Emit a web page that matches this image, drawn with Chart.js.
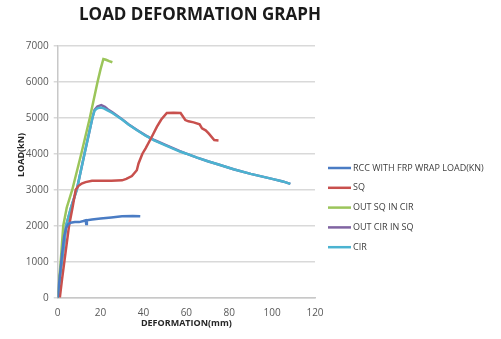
<!DOCTYPE html>
<html>
<head>
<meta charset="utf-8">
<script src="https://cdn.jsdelivr.net/npm/chart.js@4.4.0/dist/chart.umd.min.js"></script>
<style>
  html, body { margin: 0; padding: 0; background: #fff; }
  #wrap { width: 501px; height: 339px; position: relative; }
</style>
</head>
<body>
<div id="wrap"><canvas id="chart"></canvas></div>
<script>
// deformation (mm) / load (kN)
const rccDef  = [0, 1, 2, 3, 4, 5, 6, 8, 10, 12, 13, 13.3, 13.6, 16, 20, 25, 30, 35, 38.5];
const rccLoad = [0, 600, 1200, 1700, 1950, 2050, 2080, 2100, 2100, 2130, 2150, 2050, 2150, 2170, 2200, 2230, 2260, 2270, 2260];

const sqDef  = [1, 2, 3.1, 4.2, 5.3, 6.9, 8.4, 9.6, 11.2, 13, 16, 20, 25, 30, 32, 34.6, 36.9, 37.7, 39.5, 41, 43.9, 46.3, 48.3, 50.9, 54, 57.3, 59.5, 61, 63.4, 66.2, 67.3, 69, 70.4, 73, 75];
const sqLoad = [0, 500, 1000, 1500, 2000, 2500, 3000, 3100, 3170, 3210, 3250, 3250, 3250, 3260, 3300, 3380, 3540, 3730, 4000, 4150, 4470, 4750, 4950, 5130, 5140, 5130, 4935, 4900, 4870, 4815, 4705, 4650, 4565, 4380, 4370];

const sqCirDef  = [0, 0.7, 1.4, 2, 2.6, 4.2, 6.8, 11, 15, 18.6, 20, 21.3, 22.5, 24, 25.5];
const sqCirLoad = [0, 500, 1000, 1500, 2000, 2500, 3000, 4000, 5000, 6000, 6350, 6630, 6610, 6570, 6540];

const cirSqDef  = [0, 1, 1.9, 3, 3.9, 6.2, 8.9, 12.5, 16.2, 17.2, 18.5, 20.3, 22, 23.5, 25.5, 30, 33, 37, 41, 45, 50, 57, 60, 65, 70, 75, 82, 90, 100, 105, 108.5];
const cirSqLoad = [0, 600, 1000, 1500, 2000, 2500, 3000, 4000, 5000, 5220, 5310, 5350, 5300, 5230, 5150, 4960, 4820, 4660, 4510, 4380, 4250, 4070, 4000, 3890, 3790, 3700, 3570, 3440, 3300, 3230, 3160];

const cirDef  = [0, 1, 1.9, 3, 3.9, 6.2, 8.9, 12.5, 16.2, 17.2, 18.5, 20, 21.5, 23, 25.5, 30, 33, 37, 41, 45, 50, 57, 60, 65, 70, 75, 82, 90, 100, 105, 108.5];
const cirLoad = [0, 600, 1000, 1500, 2000, 2500, 3000, 4000, 5000, 5200, 5260, 5280, 5260, 5210, 5130, 4950, 4810, 4650, 4500, 4370, 4240, 4060, 4000, 3890, 3790, 3700, 3570, 3440, 3300, 3230, 3160];

const seriesNames = ['RCC WITH FRP WRAP LOAD(KN)', 'SQ', 'OUT SQ IN CIR', 'OUT CIR IN SQ', 'CIR'];
const seriesColors = ['#4a7cc4', '#c8504d', '#9bc55a', '#8064a2', '#4bb3d1'];
const xTicks = [0, 20, 40, 60, 80, 100, 120];
const yTicks = [0, 1000, 2000, 3000, 4000, 5000, 6000, 7000];

function toPoints(xs, ys) {
    return xs.map((x, i) => ({ x: x, y: ys[i] }));
}

const allDef = [rccDef, sqDef, sqCirDef, cirSqDef, cirDef];
const allLoad = [rccLoad, sqLoad, sqCirLoad, cirSqLoad, cirLoad];
// cyan sits on top of purple in the picture
const drawOrder = [0, 1, 2, 4, 3];

const datasets = seriesNames.map((name, i) => ({
    label: name,
    data: toPoints(allDef[i], allLoad[i]),
    borderColor: seriesColors[i],
    backgroundColor: seriesColors[i],
    borderWidth: 2.5,
    pointRadius: 0,
    showLine: true,
    tension: 0,
    order: drawOrder[i]
}));

const textFont = '"Open Sans", "Liberation Sans", sans-serif';

// title, y title and legend placed like the original
const decorations = {
    id: 'decorations',
    afterDraw(chart) {
        const ctx = chart.ctx;
        ctx.save();
        ctx.fillStyle = '#1a1a1a';
        ctx.font = 'bold 17px ' + textFont;
        ctx.textAlign = 'center';
        ctx.textBaseline = 'middle';
        ctx.fillText('LOAD DEFORMATION GRAPH', 200, 15);

        ctx.save();
        ctx.translate(21, 155);
        ctx.rotate(-Math.PI / 2);
        ctx.font = 'bold 9px ' + textFont;
        ctx.fillStyle = '#262626';
        ctx.fillText('LOAD(kN)', 0, 0);
        ctx.restore();

        ctx.font = '9px ' + textFont;
        ctx.textAlign = 'left';
        ctx.fillStyle = '#404040';
        chart.data.datasets.forEach((ds, i) => {
            const y = 168 + i * 19.8;
            ctx.strokeStyle = ds.borderColor;
            ctx.lineWidth = 2.5;
            ctx.beginPath();
            ctx.moveTo(328, y);
            ctx.lineTo(351, y);
            ctx.stroke();
            ctx.fillText(ds.label, 353, y);
        });
        ctx.restore();
    }
};

new Chart(document.getElementById('chart'), {
    type: 'scatter',
    data: { datasets: datasets },
    options: {
        responsive: true,
        maintainAspectRatio: false,
        animation: false,
        layout: { padding: { top: 45.7, right: 186, bottom: 0, left: 0 } },
        plugins: {
            legend: { display: false },
            title: { display: false },
            tooltip: { enabled: false }
        },
        scales: {
            x: {
                type: 'linear',
                min: 0,
                max: 120,
                afterBuildTicks: (s) => { s.ticks = xTicks.map(v => ({ value: v })); },
                afterFit: (s) => { s.height = 41.3; },
                grid: { display: false, drawTicks: false },
                border: { display: true, color: '#c8c8c8', width: 1.5 },
                ticks: {
                    color: '#595959',
                    font: { size: 10, family: textFont },
                    padding: 9,
                    callback: (v) => String(v)
                },
                title: {
                    display: true,
                    text: 'DEFORMATION(mm)',
                    color: '#262626',
                    font: { size: 9, weight: 'bold', family: textFont },
                    padding: { top: 0, bottom: 10 }
                }
            },
            y: {
                type: 'linear',
                min: 0,
                max: 7000,
                afterBuildTicks: (s) => { s.ticks = yTicks.map(v => ({ value: v })); },
                afterFit: (s) => { s.width = 57.7; },
                grid: { color: '#d9d9d9', lineWidth: 1.5, drawTicks: true, tickLength: 4 },
                border: { display: true, color: '#c8c8c8', width: 1.5 },
                ticks: {
                    color: '#595959',
                    font: { size: 10, family: textFont },
                    padding: 5,
                    callback: (v) => String(v)
                }
            }
        }
    },
    plugins: [decorations]
});
</script>
</body>
</html>
